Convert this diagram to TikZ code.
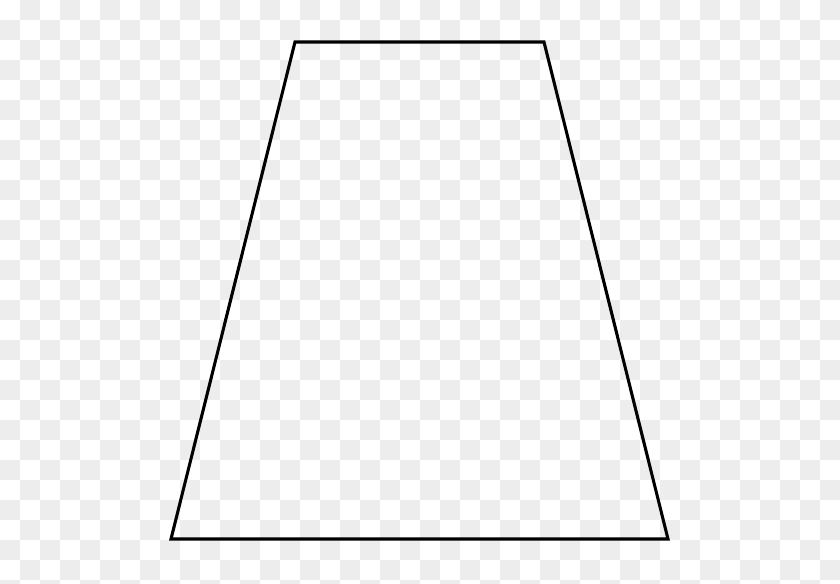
\documentclass[tikz,border=0pt]{standalone}
\definecolor{checker}{HTML}{EDEDED}
\tikzset{outline/.style={draw=black,line width=2.3pt,line join=miter}}
\begin{document}
\begin{tikzpicture}[x=0.75pt,y=-0.75pt]
\useasboundingbox (0,0) rectangle (840,584);
\fill[white] (0,0) rectangle (840,584);
\foreach \c in {0,...,41}{
  \foreach \r in {0,...,29}{
    \pgfmathtruncatemacro{\odd}{mod(\c+\r,2)}
    \ifnum\odd=1 \fill[checker] (\c*20,\r*20) rectangle ++(20,20);\fi
  }
}
\coordinate (tl) at (295,42);
\coordinate (tr) at (544,42);
\coordinate (br) at (668,539);
\coordinate (bl) at (171,539);
\draw[outline] (tl) -- (tr) -- (br) -- (bl) -- cycle;
\end{tikzpicture}
\end{document}
